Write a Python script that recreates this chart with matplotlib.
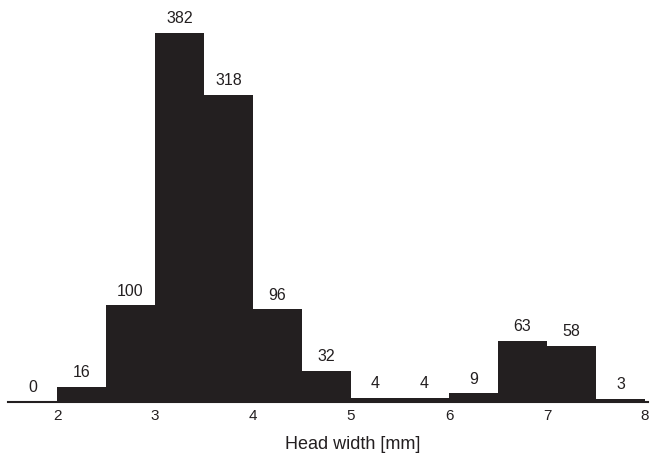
import numpy as np
import matplotlib
matplotlib.use("Agg")
import matplotlib.pyplot as plt

plt.rcParams['font.family'] = ['Liberation Sans', 'DejaVu Sans']

bin_left = [1.5, 2.0, 2.5, 3.0, 3.5, 4.0, 4.5, 5.0, 5.5, 6.0, 6.5, 7.0, 7.5]
counts = [0, 16, 100, 382, 318, 96, 32, 4, 4, 9, 63, 58, 3]
ticks = [2, 3, 4, 5, 6, 7, 8]
width = 0.5
col = "#231f20"

fig = plt.figure(figsize=(6.5, 4.53), dpi=100)
ax = fig.add_axes([8 / 650, 51 / 453, 640 / 650, 0.874])

ax.bar(bin_left, counts, width=width, align="edge", color=col, edgecolor="none")
for x, c in zip(bin_left, counts):
    ax.text(x + width / 2, c + 7, str(c), ha="center", va="bottom", fontsize=11.5, color=col)

ax.set_xlim(1.5, 8.03)
ax.set_ylim(0, 410)
for s in ["top", "right", "left"]:
    ax.spines[s].set_visible(False)
ax.spines["bottom"].set_color(col)
ax.spines["bottom"].set_linewidth(1.5)
ax.set_yticks([])
ax.set_xticks(ticks)
ax.tick_params(axis="x", length=0, pad=5, labelsize=11, colors=col)
ax.set_xlabel("Head width [mm]", fontsize=13, color=col)
ax.xaxis.set_label_coords(0.539, -0.085)

fig.savefig("out.png", dpi=100)
